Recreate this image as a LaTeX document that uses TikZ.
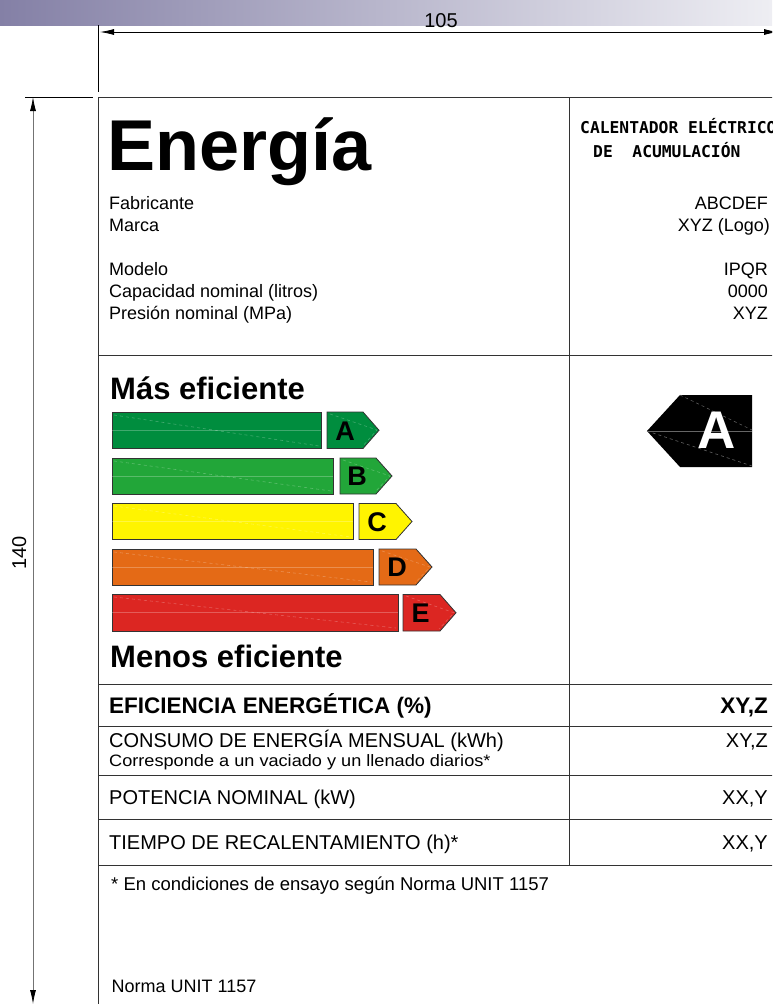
\documentclass[tikz,border=0pt]{standalone}
\usepackage{fontspec}
\usepackage{graphicx}
\setmainfont{Liberation Sans}
\newfontfamily\techfont{DejaVu Sans Mono}
\usetikzlibrary{arrows.meta}

\definecolor{ratA}{RGB}{0,141,62}
\definecolor{ratB}{RGB}{34,166,57}
\definecolor{ratC}{RGB}{255,244,0}
\definecolor{ratD}{RGB}{228,106,22}
\definecolor{ratE}{RGB}{220,38,34}
\definecolor{bandL}{RGB}{132,128,166}
\definecolor{bandM}{RGB}{192,190,210}
\definecolor{bandR}{RGB}{238,238,243}

\begin{document}
\begin{tikzpicture}[x=1pt,y=-1pt,
    every node/.style={inner sep=0pt},
    frame/.style={draw=black!80, line width=1pt},
    dim/.style={line width=0.8pt, {Latex[length=14pt,width=6pt,color=black]}-{Latex[length=14pt,width=6pt,color=black]}},
    ext/.style={draw=black, line width=0.7pt},
    bar/.style={draw=black!80, line width=0.8pt},
    streak/.style={draw=white, draw opacity=0.25, line width=0.6pt},
    grade/.style={font=\fontsize{27}{27}\selectfont\bfseries},
    field/.style={anchor=base west, font=\fontsize{18}{18}\selectfont},
    value/.style={anchor=base east, font=\fontsize{18}{18}\selectfont},
    rowtext/.style={anchor=base west, font=\fontsize{20}{20}\selectfont},
    rowvalue/.style={anchor=base east, font=\fontsize{20}{20}\selectfont},
    heading/.style={anchor=base west, font=\fontsize{31}{31}\selectfont\bfseries},
    kind/.style={anchor=base west, font=\techfont\bfseries\fontsize{16.3}{16.3}\selectfont}
  ]
  \useasboundingbox (0,0) rectangle (772,1004);
  \clip (0,0) rectangle (772,1004);

  % top band and dimensions
  \shade[left color=bandL, middle color=bandM, right color=bandR] (0,0) rectangle (772,25);
  \coordinate (wL) at (100,32);
  \coordinate (wR) at (778,32);
  \draw[dim] (wL) -- (wR);
  \node[anchor=base, font=\fontsize{20}{20}\selectfont] (width) at (441,27) {105};
  \draw[ext] (98,25) -- (98,92);
  \draw[ext] (25,97) -- (93,97);
  \coordinate (hT) at (33,97);
  \coordinate (hB) at (33,1004);
  \draw[dim, draw=black!55] (hT) -- (hB);
  \node[anchor=base, rotate=90, font=\fontsize{20}{20}\selectfont] (height) at (26,553) {140};

  % label frame
  \draw[frame] (98,1010) -- (98,97) -- (780,97);
  \draw[frame] (569,97) -- (569,865);
  \draw[frame] (98,355) -- (780,355);
  \draw[frame] (98,684) -- (780,684);
  \draw[frame] (98,726) -- (780,726);
  \draw[frame] (98,775) -- (780,775);
  \draw[frame] (98,819) -- (780,819);
  \draw[frame] (98,865) -- (780,865);

  % header
  \coordinate (rx) at (768,0);
  \node[anchor=base west, font=\fontsize{72}{72}\selectfont\bfseries] (title) at (107,170) {Energía};
  \node[field] (fab) at (109,209) {Fabricante};
  \node[field] (marca) at (109,231) {Marca};
  \node[field] (modelo) at (109,275) {Modelo};
  \node[field] (cap) at (109,297) {Capacidad nominal (litros)};
  \node[field] (pres) at (109,319) {Presión nominal (MPa)};
  \node[value] (fabv) at (fab.base -| rx) {ABCDEF};
  \node[value] (marcav) at ([xshift=2pt]marca.base -| rx) {XYZ (Logo)};
  \node[value] (modelov) at (modelo.base -| rx) {IPQR};
  \node[value] (capv) at (cap.base -| rx) {0000};
  \node[value] (presv) at (pres.base -| rx) {XYZ};
  \node[kind] (kind1) at (580,133) {CALENTADOR ELÉCTRICO};
  \node[kind] (kind2) at (593,157) {DE\ \ ACUMULACIÓN};

  % efficiency scale
  \node[heading] (mas) at (110,399) {Más eficiente};
  \node[heading] (menos) at (110,667) {Menos eficiente};

  \draw[bar, fill=ratA] (112,412) rectangle (321,448.5);
  \draw[streak] (112,430) -- (321,430);
  \draw[streak, dashed] (114,415) -- (319,446);
  \draw[bar, fill=ratA] (327,412) -- (363,412) -- (379,430.25) -- (363,448.5) -- (327,448.5) -- cycle;
  \draw[streak, dashed] (330,414) -- (377,430) -- (362,447);
  \node[grade] (gA) at (345,431) {A};

  \draw[bar, fill=ratB] (112,458) rectangle (333,494);
  \draw[streak] (112,476) -- (333,476);
  \draw[streak, dashed] (114,461) -- (331,491);
  \draw[bar, fill=ratB] (340,458) -- (376,458) -- (392,476) -- (376,494) -- (340,494) -- cycle;
  \draw[streak, dashed] (343,460) -- (390,476) -- (375,492);
  \node[grade] (gB) at (357,476.5) {B};

  \draw[bar, fill=ratC] (112,503.5) rectangle (353,539.5);
  \draw[streak] (112,521.5) -- (353,521.5);
  \draw[streak, dashed] (114,506) -- (351,537);
  \draw[bar, fill=ratC] (359,503.5) -- (396,503.5) -- (412,521.5) -- (396,539.5) -- (359,539.5) -- cycle;
  \node[grade] (gC) at (377,522) {C};

  \draw[bar, fill=ratD] (112,549) rectangle (373,585);
  \draw[streak] (112,567) -- (373,567);
  \draw[streak, dashed] (114,552) -- (371,582);
  \draw[bar, fill=ratD] (379,549) -- (416,549) -- (432,567) -- (416,585) -- (379,585) -- cycle;
  \draw[streak, dashed] (382,551) -- (430,567) -- (415,583);
  \node[grade] (gD) at (397,567.5) {D};

  \draw[bar, fill=ratE] (112,594.5) rectangle (398,631);
  \draw[streak] (112,612.5) -- (398,612.5);
  \draw[streak, dashed] (114,597) -- (396,628);
  \draw[bar, fill=ratE] (403,594.5) -- (440,594.5) -- (456,612.75) -- (440,631) -- (403,631) -- cycle;
  \draw[streak, dashed] (406,596) -- (454,612.75) -- (439,629);
  \node[grade] (gE) at (420.5,613) {E};

  % class of this appliance
  \fill[black] (647,431) -- (680,395) -- (752,395) -- (752,467) -- (680,467) -- cycle;
  \draw[black!60, line width=0.5pt] (647,431) -- (752,431);
  \draw[black!60, line width=0.5pt, dashed] (680,395) -- (752,430);
  \draw[black!60, line width=0.5pt, dashed] (647,431) -- (752,466);
  \node[text=white, font=\fontsize{53}{53}\selectfont\bfseries] (cls) at (717,430) {A};

  % data table
  \node[anchor=base west, font=\fontsize{22.5}{22.5}\selectfont\bfseries] (efic) at (109,713) {EFICIENCIA ENERGÉTICA (\%)};
  \node[anchor=base east, font=\fontsize{22.5}{22.5}\selectfont\bfseries] (eficv) at (efic.base -| rx) {XY,Z};
  \node[rowtext] (cons) at (109,747) {CONSUMO DE ENERGÍA MENSUAL (kWh)};
  \node[rowvalue] (consv) at (cons.base -| rx) {XY,Z};
  \node[anchor=base west, font=\fontsize{16.5}{16.5}\selectfont] (consnote) at (109,766)
    {\scalebox{1.1}[1]{Corresponde a un vaciado y un llenado diarios*}};
  \node[rowtext] (pot) at (109,804) {POTENCIA NOMINAL (kW)};
  \node[rowvalue] (potv) at (pot.base -| rx) {XX,Y};
  \node[rowtext] (tiempo) at (109,849) {TIEMPO DE RECALENTAMIENTO (h)*};
  \node[rowvalue] (tiempov) at (tiempo.base -| rx) {XX,Y};

  \node[anchor=base west, font=\fontsize{18.5}{18.5}\selectfont] (nota) at (111,890) {* En condiciones de ensayo según Norma UNIT 1157};
  \node[field] (norma) at (111.5,992) {Norma UNIT 1157};
\end{tikzpicture}
\end{document}
